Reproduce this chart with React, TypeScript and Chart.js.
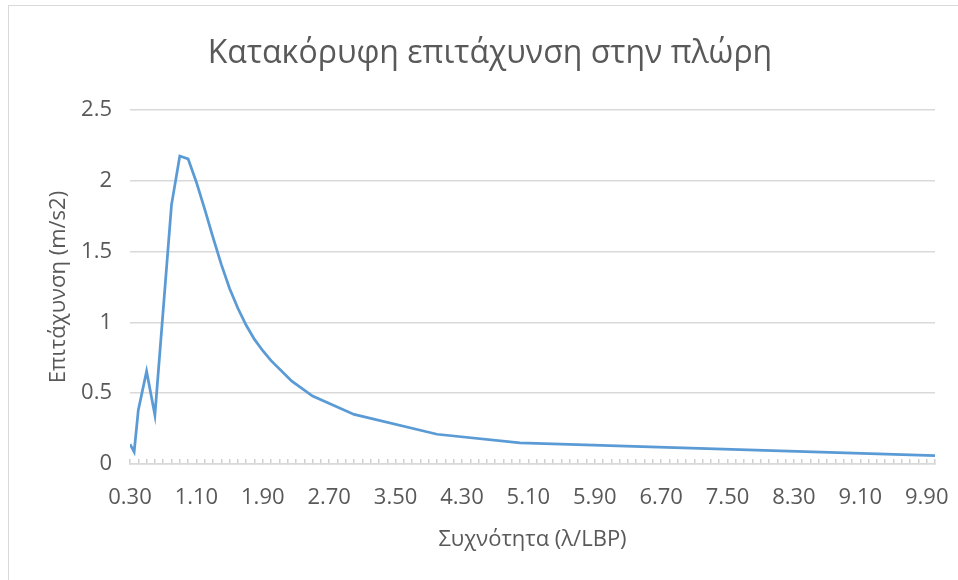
import { useEffect, useRef } from 'react';
import { Chart, registerables } from 'chart.js';

Chart.register(...registerables);

// Frequency ratio (λ/LBP) and vertical bow acceleration (m/s2)
const freq = [0.3, 0.35, 0.4, 0.5, 0.6, 0.8, 0.9, 1.0, 1.1, 1.2, 1.3, 1.4, 1.5, 1.6, 1.7, 1.8, 1.9, 2.0, 2.25, 2.5, 3.0, 4.0, 5.0, 10.0];
const accel = [0.14, 0.085, 0.38, 0.655, 0.345, 1.83, 2.175, 2.155, 1.99, 1.8, 1.6, 1.41, 1.24, 1.1, 0.98, 0.88, 0.8, 0.73, 0.585, 0.48, 0.35, 0.21, 0.15, 0.06];

// Category ticks along the x axis: 0.30 … 10.00 in steps of 0.10, labelled every 8th
const X_TICK_COUNT = 98;
const X_LABEL_EVERY = 8;
const xTickValues = Array.from({ length: X_TICK_COUNT }, (_, i) => (3 + i) / 10);

const TITLE = 'Κατακόρυφη επιτάχυνση στην πλώρη';
const X_TITLE = 'Συχνότητα (λ/LBP)';
const Y_TITLE = 'Επιτάχυνση (m/s2)';

const TEXT = '#595959';
const GRID = '#d9d9d9';
const LINE = '#5b9bd5';
const FONT = "'Open Sans', sans-serif";

// Rotated y-axis title, centred on the plot area's height
const yTitlePlugin = {
  id: 'yTitle',
  afterDraw(chart: any) {
    const { ctx, chartArea } = chart;
    ctx.save();
    ctx.translate(50, (chartArea.top + chartArea.bottom) / 2);
    ctx.rotate(-Math.PI / 2);
    ctx.font = `22px ${FONT}`;
    ctx.fillStyle = TEXT;
    ctx.textAlign = 'center';
    ctx.textBaseline = 'middle';
    ctx.fillText(Y_TITLE, 0, 0);
    ctx.restore();
  },
};

export default function App() {
  const ref = useRef<HTMLCanvasElement>(null);

  useEffect(() => {
    const chart = new Chart(ref.current!, {
      type: 'line',
      data: {
        datasets: [
          {
            data: freq.map((x, i) => ({ x, y: accel[i] })),
            borderColor: LINE,
            borderWidth: 2.75,
            pointRadius: 0,
            tension: 0,
            fill: false,
          },
        ],
      },
      plugins: [yTitlePlugin],
      options: {
        responsive: false,
        animation: false,
        events: [],
        layout: { padding: 0 },
        plugins: {
          legend: { display: false },
          tooltip: { enabled: false },
          title: {
            display: true,
            text: TITLE,
            color: TEXT,
            font: { family: FONT, size: 32, weight: 'normal' },
            padding: { top: 28.4, bottom: 37.2 },
          },
        },
        scales: {
          x: {
            type: 'linear',
            min: 0.3,
            max: 10.0,
            afterBuildTicks: (s: any) => {
              s.ticks = xTickValues.map((v) => ({ value: v }));
            },
            afterFit: (s: any) => {
              s.height = 116;
            },
            ticks: {
              autoSkip: false,
              maxRotation: 0,
              color: TEXT,
              font: { family: FONT, size: 22 },
              padding: 26,
              callback: (value: any, index: number) =>
                index % X_LABEL_EVERY === 0 ? Number(value).toFixed(2) : '',
            },
            grid: {
              drawOnChartArea: false,
              drawTicks: true,
              tickLength: -5,
              color: '#d0d0d0',
              lineWidth: 1.5,
            },
            border: { display: true, color: GRID, width: 1.5 },
            title: {
              display: true,
              text: X_TITLE,
              color: TEXT,
              font: { family: FONT, size: 22 },
              padding: { top: 0, bottom: 27.5 },
            },
          },
          y: {
            min: 0,
            max: 2.5,
            afterFit: (s: any) => {
              s.width = 121;
            },
            ticks: {
              stepSize: 0.5,
              color: TEXT,
              font: { family: FONT, size: 22 },
              padding: 18,
              callback: (value: any) => String(Number(value)),
            },
            grid: {
              drawTicks: false,
              color: GRID,
              lineWidth: 1.5,
            },
            border: { display: false },
          },
          // empty right-hand margin so the title stays centred on the whole card
          margin: {
            position: 'right',
            min: 0,
            max: 1,
            afterFit: (s: any) => {
              s.width = 36;
            },
            ticks: { display: false },
            grid: { display: false },
            border: { display: false },
          },
        },
      },
    });
    return () => chart.destroy();
  }, []);

  return (
    <div
      style={{
        position: 'absolute',
        left: 0,
        top: 0,
        width: 958,
        height: 580,
        overflow: 'hidden',
        background: '#fff',
      }}
    >
      <div
        style={{
          position: 'absolute',
          left: 8,
          top: 5,
          width: 963,
          height: 575,
          borderLeft: `1px solid ${GRID}`,
          borderTop: `1px solid ${GRID}`,
        }}
      >
        <canvas ref={ref} width={962} height={574} style={{ display: 'block', width: 962, height: 574 }} />
      </div>
    </div>
  );
}
